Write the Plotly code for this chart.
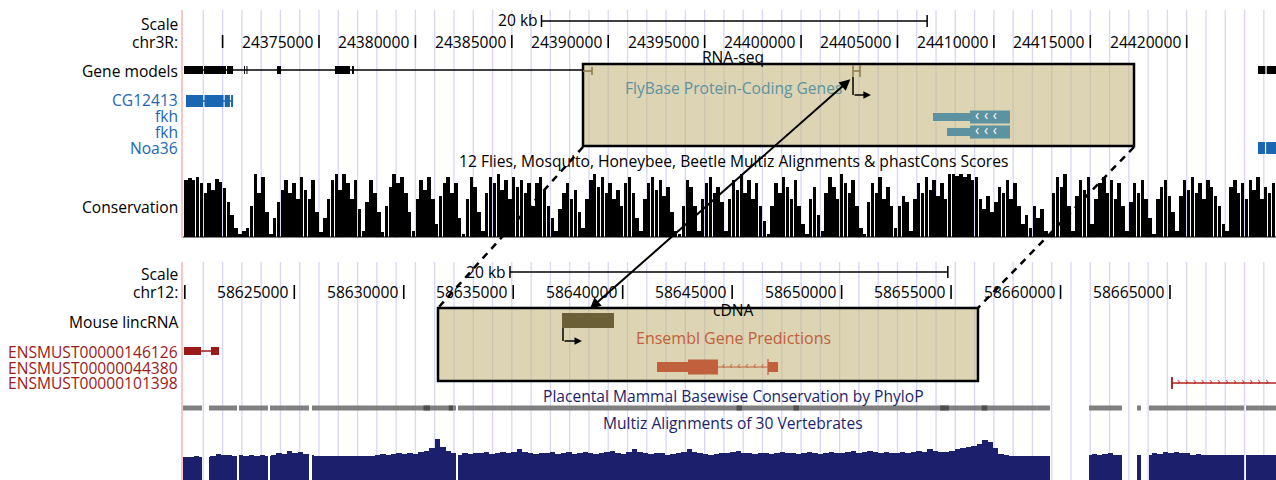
import numpy as np
import plotly.graph_objects as go

# ======================= DATA =======================
# visible windows (genomic coordinates)
top_view = [24367947, 24424632]          # chr3R
bot_view = [58619916, 58669842]          # chr12

top_tick_pos = [24370000, 24375000, 24380000, 24385000, 24390000, 24395000,
                24400000, 24405000, 24410000, 24415000, 24420000]
top_tick_labels = ["", "24375000", "24380000", "24385000", "24390000", "24395000",
                   "24400000", "24405000", "24410000", "24415000", "24420000"]
bot_tick_pos = [58620000, 58625000, 58630000, 58635000, 58640000,
                58645000, 58650000, 58655000, 58660000, 58665000]
bot_tick_labels = ["", "58625000", "58630000", "58635000", "58640000",
                   "58645000", "58650000", "58655000", "58660000", "58665000"]
top_scalebar = [24386540, 24406540]
bot_scalebar = [58634852, 58654852]

# chr3R gene models (black)
models_line = [24368000, 24388692]
models_exons = [(24368000, 24368984), (24369036, 24370177), (24370229, 24370540),
                (24371110, 24371160), (24371240, 24371290), (24372822, 24373029),
                (24375830, 24376608), (24376712, 24376816)]
models_right_exons = [(24423699, 24424080), (24424150, 24424632)]
# FlyBase (blue)
cg12413_line = [24368100, 24370540]
cg12413_exons = [(24368100, 24368984), (24369060, 24370050), (24370110, 24370380),
                 (24370440, 24370540)]
noa36_exons = [(24423699, 24424060), (24424120, 24424632)]
# fkh transcripts (teal, minus strand)
fkh_utr = [(24406844, 24408763), (24407570, 24408763)]
fkh_cds = [(24408763, 24410837), (24408763, 24410837)]
# RNA-seq (highlighted region)
top_region = [24388692, 24417268]
rnaseq_tail = [24388692, 24389159]
rnaseq_exon = [24402695, 24403058]
rnaseq_tss = [24402695, 24403620]

# chr12
bot_region = [58631564, 58656229]
cdna_block = [58637228, 58639603]
cdna_tss = [58637273, 58638140]
ens_utr = [58641567, 58642983]
ens_cds = [58642983, 58644354]
ens_intron = [58644354, 58646638]
ens_end = [58646638, 58647097]
ensmust146126_exons = [(58619962, 58620738), (58621195, 58621560)]
ensmust101398_start = 58665090

# top conservation (phastCons, 200 bp bins from 24368000)
cons_start, cons_bin = 24368000, 200
cons_vals = [
    0.90, 0.93, 0.90, 0.95, 0.85, 0.70, 0.85, 0.75, 0.92, 0.88,
    0.78, 0.55, 0.35, 0.15, 0.05, 0.10, 0.15, 0.50, 1.00, 0.70,
    0.95, 0.40, 0.05, 0.30, 0.55, 0.75, 0.90, 0.70, 0.85, 0.60,
    0.95, 0.75, 0.60, 0.90, 0.40, 0.08, 0.30, 0.60, 0.90, 1.00,
    0.75, 1.00, 0.85, 0.60, 0.90, 0.45, 0.10, 0.55, 0.90, 0.70,
    0.40, 0.08, 0.50, 0.80, 1.00, 0.85, 0.95, 0.70, 0.40, 0.10,
    0.60, 0.90, 0.75, 0.95, 0.60, 0.20, 0.65, 0.85, 0.95, 0.70,
    0.85, 0.30, 0.05, 0.60, 0.95, 0.80, 0.40, 0.10, 0.70, 0.95,
    0.85, 1.00, 0.75, 0.90, 0.60, 0.95, 0.80, 0.90, 0.70, 0.85,
    0.50, 0.85, 0.95, 0.75, 0.50, 0.30, 0.10, 0.45, 0.70, 0.85,
    0.60, 0.75, 0.40, 0.15, 0.60, 0.90, 1.00, 0.80, 0.95, 0.70,
    0.85, 0.60, 0.75, 0.50, 0.85, 0.95, 0.70, 0.30, 0.10, 0.60,
    0.85, 0.95, 0.75, 0.90, 0.65, 0.80, 0.40, 0.10, 0.05, 0.50,
    0.90, 0.80, 0.50, 0.10, 0.60, 0.85, 0.95, 0.70, 0.80, 0.55,
    0.10, 0.60, 0.90, 0.75, 1.00, 0.70, 0.90, 0.60, 0.85, 0.50,
    0.25, 0.05, 0.50, 0.85, 0.70, 0.95, 0.80, 0.60, 0.90, 0.50,
    0.20, 0.05, 0.60, 0.80, 0.35, 0.10, 0.70, 0.95, 0.80, 0.60,
    1.00, 0.85, 0.70, 0.90, 0.50, 0.15, 0.05, 0.55, 0.85, 0.70,
    0.95, 0.60, 0.80, 0.50, 0.15, 0.50, 0.65, 0.55, 0.10, 0.60,
    0.85, 0.70, 0.95, 0.75, 0.90, 0.65, 0.85, 0.60, 1.00, 1.00,
    0.97, 1.00, 0.95, 1.00, 0.90, 0.95, 0.60, 0.45, 0.65, 0.40,
    0.55, 0.80, 0.70, 0.90, 0.60, 0.85, 0.50, 0.20, 0.35, 0.15,
    0.50, 0.30, 0.45, 0.10, 0.05, 0.70, 0.95, 0.80, 1.00, 0.50,
    0.10, 0.65, 0.90, 0.75, 0.95, 0.20, 0.60, 0.85, 0.95, 0.70,
    0.90, 0.60, 0.85, 0.50, 0.10, 0.55, 0.85, 0.70, 0.90, 0.60,
    0.30, 0.05, 0.60, 0.80, 0.90, 0.65, 0.40, 0.10, 0.65, 0.90,
    0.75, 0.95, 0.70, 0.85, 0.60, 0.90, 0.80, 0.65, 0.50, 0.20,
    0.10, 0.80, 0.90, 0.70, 0.85, 0.60, 0.90, 0.75, 0.95, 0.60,
    0.80, 0.70, 0.85,
]

# bottom conservation (Multiz 30 vertebrates, 250 bp bins from 58619916)
multiz_start, multiz_bin = 58619916, 250
multiz_vals = [
    0.57, 0.57, 0.58, 0.57, 0.57, 0.59, 0.62, 0.60, 0.60, 0.59,
    0.60, 0.58, 0.60, 0.59, 0.61, 0.58, 0.60, 0.63, 0.62, 0.68,
    0.64, 0.66, 0.62, 0.60, 0.59, 0.58, 0.58, 0.58, 0.58, 0.58,
    0.58, 0.58, 0.58, 0.58, 0.59, 0.60, 0.62, 0.61, 0.62, 0.63,
    0.62, 0.64, 0.62, 0.65, 0.67, 0.72, 0.88, 0.75, 0.68, 0.64,
    0.60, 0.63, 0.62, 0.64, 0.63, 0.65, 0.62, 0.64, 0.66, 0.63,
    0.65, 0.70, 0.66, 0.64, 0.62, 0.64, 0.63, 0.65, 0.62, 0.64,
    0.66, 0.62, 0.64, 0.65, 0.63, 0.62, 0.64, 0.66, 0.68, 0.64,
    0.62, 0.65, 0.70, 0.66, 0.63, 0.62, 0.64, 0.63, 0.61, 0.62,
    0.64, 0.66, 0.70, 0.66, 0.64, 0.62, 0.61, 0.62, 0.64, 0.63,
    0.66, 0.68, 0.64, 0.63, 0.62, 0.64, 0.63, 0.62, 0.64, 0.66,
    0.64, 0.63, 0.62, 0.64, 0.66, 0.63, 0.62, 0.64, 0.66, 0.64,
    0.63, 0.65, 0.67, 0.64, 0.65, 0.68, 0.66, 0.64, 0.65, 0.63,
    0.64, 0.66, 0.64, 0.66, 0.68, 0.65, 0.70, 0.67, 0.65, 0.66,
    0.68, 0.70, 0.72, 0.74, 0.76, 0.80, 0.86, 0.82, 0.72, 0.62,
    0.60, 0.58, 0.58, 0.58, 0.58, 0.58, 0.58, 0.58, 0.58, 0.58,
    0.58, 0.58, 0.58, 0.58, 0.58, 0.60, 0.62, 0.60, 0.62, 0.63,
    0.60, 0.60, 0.60, 0.60, 0.60, 0.60, 0.60, 0.64, 0.62, 0.65,
    0.63, 0.66, 0.64, 0.63, 0.60, 0.62, 0.60, 0.60, 0.60, 0.60,
    0.60, 0.60, 0.60, 0.60, 0.60, 0.60, 0.60, 0.60, 0.60, 0.60,
]
aligned_segments = [(58619916, 58620784), (58621104, 58622383), (58622474, 58623799),
                    (58623890, 58625671), (58625808, 58632386), (58632477, 58659518),
                    (58661300, 58662807), (58663492, 58663675), (58664040, 58668379),
                    (58668471, 58669842)]
phylop_dark = [(58630900, 58631200), (58632050, 58632250), (58645200, 58645450),
               (58647800, 58648050), (58654500, 58654900), (58656400, 58656650)]

# ======================= STYLE / LAYOUT =======================
W, H = 1276, 480
LEFT = 183
DOM = [LEFT / W, 1.0]
FONT = "Open Sans, Lato, DejaVu Sans, sans-serif"
FS = 15.6
BLUE = "#1b66b3"
TEAL = "#5d92a1"
OLIVE = "#8c7843"
DOLIVE = "#6a5f37"
RUST = "#c0603c"
DRED = "#9b1a1a"
NAVY = "#1c1f6b"
GRID = "#d6d6fa"
TAN = "rgba(196,184,128,0.6)"
CX = 733 / W  # centre of the image area for track titles

shapes, annots, traces = [], [], []


def line(xref, x0, x1, y0, y1, color, width=1.5, layer="above", dash=None):
    d = dict(type="line", xref=xref, yref="y", x0=x0, x1=x1, y0=y0, y1=y1,
             line=dict(color=color, width=width), layer=layer)
    if dash:
        d["line"]["dash"] = dash
    shapes.append(d)


def rect(xref, x0, x1, yc, h, color, layer="below"):
    shapes.append(dict(type="rect", xref=xref, yref="y", x0=x0, x1=x1,
                       y0=yc - h / 2, y1=yc + h / 2, fillcolor=color,
                       line=dict(width=0), layer=layer))


def text(s, x, y, xref="paper", xanchor="right", color="black", size=FS, xshift=0):
    annots.append(dict(text=s, x=x, y=y, xref=xref, yref="y", xanchor=xanchor,
                       yanchor="middle", showarrow=False, xshift=xshift,
                       font=dict(family=FONT, size=size, color=color)))


def to_paper(bp, view):
    return DOM[0] + (bp - view[0]) / (view[1] - view[0]) * (DOM[1] - DOM[0])


# guidelines (pixel based in the browser image -> every kb in the top window)
for g in range(24369000, 24425000, 1000):
    for (ya, yb) in [(10, 238), (262, 480)]:
        line("x", g, g, ya, yb, GRID, width=1.3, layer="below")
# highlight boxes
shapes.append(dict(type="rect", xref="x", yref="y", x0=top_region[0], x1=top_region[1],
                   y0=64, y1=146, fillcolor=TAN, line=dict(color="black", width=2.5),
                   layer="below"))
shapes.append(dict(type="rect", xref="x2", yref="y", x0=bot_region[0], x1=bot_region[1],
                   y0=308, y1=381, fillcolor=TAN, line=dict(color="black", width=2.5),
                   layer="below"))
# left red border
for (ya, yb) in [(10, 238), (262, 480)]:
    shapes.append(dict(type="line", xref="paper", yref="y", x0=182 / W, x1=182 / W,
                       y0=ya, y1=yb, line=dict(color="#f4a0a0", width=1.2), layer="above"))

# ---------------- top panel ----------------
text("Scale", 180 / W, 24)
text("chr3R:", 180 / W, 42)
text("20 kb", top_scalebar[0], 20, xref="x", xshift=-2)
line("x", top_scalebar[0], top_scalebar[1], 21, 21, "black", 1.5)
line("x", top_scalebar[0], top_scalebar[0], 15, 27, "black", 1.5)
line("x", top_scalebar[1], top_scalebar[1], 15, 27, "black", 1.5)
for p, lab in zip(top_tick_pos, top_tick_labels):
    line("x", p, p, 35, 48, "black", 1.6)
    if lab:
        text(lab, p, 42, xref="x", xshift=-4)

text("Gene models", 180 / W, 71)
line("x", models_line[0], models_line[1], 70, 70, "black", 1.5)
for a, b in models_exons:
    rect("x", a, b, 70, 8, "black")
for a, b in models_right_exons:
    rect("x", a, b, 70, 8, "black")

text("RNA-seq", CX, 57, xanchor="center")
line("x", rnaseq_tail[0], rnaseq_tail[1], 71, 71, OLIVE, 1.5)
line("x", rnaseq_tail[1], rnaseq_tail[1], 67, 75, OLIVE, 1.5)
line("x", rnaseq_exon[0], rnaseq_exon[0], 65, 77, OLIVE, 1.5)
line("x", rnaseq_exon[1], rnaseq_exon[1], 65, 77, OLIVE, 1.5)
line("x", rnaseq_exon[0], rnaseq_exon[1], 71, 71, OLIVE, 1.5)
line("x", rnaseq_tss[0], rnaseq_tss[0], 77, 95, "black", 1.5)
annots.append(dict(x=rnaseq_tss[1], y=95, xref="x", yref="y", ax=rnaseq_tss[0], ay=95,
                   axref="x", ayref="y", showarrow=True, arrowhead=2, arrowsize=1,
                   arrowwidth=1.5, arrowcolor="black", text="", standoff=0))

text("FlyBase Protein-Coding Genes", CX, 88, xanchor="center", color=TEAL)
text("CG12413", 180 / W, 100, color=BLUE)
text("fkh", 180 / W, 116, color=BLUE)
text("fkh", 180 / W, 132, color=BLUE)
text("Noa36", 180 / W, 148, color=BLUE)
line("x", cg12413_line[0], cg12413_line[1], 101, 101, BLUE, 1.5, layer="below")
for a, b in cg12413_exons:
    rect("x", a, b, 101, 12, BLUE)
for a, b in noa36_exons:
    rect("x", a, b, 148, 12, BLUE)
for (u, c, yc) in zip(fkh_utr, fkh_cds, [117, 132]):
    rect("x", u[0], u[1], yc, 8, TEAL)
    rect("x", c[0], c[1], yc, 13, TEAL)
    chev = np.linspace(c[0] + 0.18 * (c[1] - c[0]), c[0] + 0.62 * (c[1] - c[0]), 3)
    traces.append(go.Scatter(x=chev, y=[yc - 1] * 3, mode="text", text=["‹"] * 3,
                             textfont=dict(family=FONT, size=14, color="white"),
                             xaxis="x", yaxis="y", hoverinfo="skip", showlegend=False))

text("12 Flies, Mosquito, Honeybee, Beetle Multiz Alignments &amp; phastCons Scores",
     CX, 161, xanchor="center")
text("Conservation", 180 / W, 207)
cons_x = [cons_start + cons_bin * (i + 0.5) for i in range(len(cons_vals))]
traces.append(go.Bar(x=cons_x, y=cons_vals, width=[cons_bin * 0.9] * len(cons_vals),
                     marker=dict(color="black", line=dict(width=0)),
                     xaxis="x", yaxis="y2", hoverinfo="skip", showlegend=False))
line("x", top_view[0], top_view[1], 237, 237, "black", 1.2)

# ---------------- bottom panel ----------------
text("Scale", 180 / W, 274)
text("chr12:", 180 / W, 292)
text("20 kb", bot_scalebar[0], 272, xref="x2", xshift=-2)
line("x2", bot_scalebar[0], bot_scalebar[1], 272, 272, "black", 1.5)
line("x2", bot_scalebar[0], bot_scalebar[0], 266, 278, "black", 1.5)
line("x2", bot_scalebar[1], bot_scalebar[1], 266, 278, "black", 1.5)
for p, lab in zip(bot_tick_pos, bot_tick_labels):
    line("x2", p, p, 285, 299, "black", 1.6)
    if lab:
        text(lab, p, 292, xref="x2", xshift=-4)

text("cDNA", CX, 310, xanchor="center")
text("Mouse lincRNA", 180 / W, 322)
rect("x2", cdna_block[0], cdna_block[1], 320.5, 15, DOLIVE)
line("x2", cdna_tss[0], cdna_tss[0], 328, 341, "black", 1.5)
annots.append(dict(x=cdna_tss[1], y=341, xref="x2", yref="y", ax=cdna_tss[0], ay=341,
                   axref="x2", ayref="y", showarrow=True, arrowhead=2, arrowsize=1,
                   arrowwidth=1.5, arrowcolor="black", text="", standoff=0))

text("Ensembl Gene Predictions", CX, 338, xanchor="center", color=RUST, size=16)
rect("x2", ens_utr[0], ens_utr[1], 367, 10, RUST)
rect("x2", ens_cds[0], ens_cds[1], 367, 15, RUST)
line("x2", ens_intron[0], ens_intron[1], 367, 367, RUST, 1.2)
line("x2", ens_end[0], ens_end[0], 359, 375, RUST, 1.2)
rect("x2", ens_end[0], ens_end[1], 367, 10, RUST)
chev = np.linspace(ens_intron[0] + 250, ens_intron[1] - 250, 6)
traces.append(go.Scatter(x=chev, y=[366.5] * 6, mode="text", text=["‹"] * 6,
                         textfont=dict(family=FONT, size=10, color=RUST),
                         xaxis="x2", yaxis="y", hoverinfo="skip", showlegend=False))

text("ENSMUST00000146126", 180 / W, 352, color=DRED)
text("ENSMUST00000044380", 180 / W, 368, color=DRED)
text("ENSMUST00000101398", 180 / W, 383, color=DRED)
line("x2", ensmust146126_exons[0][1], ensmust146126_exons[1][0], 351, 351, DRED, 1.5)
for a, b in ensmust146126_exons:
    rect("x2", a, b, 351, 8, DRED)
line("x2", ensmust101398_start, bot_view[1], 383, 383, "#b32222", 1.3)
line("x2", ensmust101398_start, ensmust101398_start, 377, 389, DRED, 1.8)
chev = np.linspace(ensmust101398_start + 300, bot_view[1] - 400, 12)
traces.append(go.Scatter(x=chev, y=[382.5] * 12, mode="text", text=["›"] * 12,
                         textfont=dict(family=FONT, size=11, color="#b32222"),
                         xaxis="x2", yaxis="y", hoverinfo="skip", showlegend=False))

text("Placental Mammal Basewise Conservation by PhyloP", CX, 396, xanchor="center",
     color=NAVY)
for a, b in aligned_segments:
    rect("x2", a, b, 408, 5, "#808080", layer="above")
for a, b in phylop_dark:
    rect("x2", a, b, 408, 5, "#4e4e4e", layer="above")
text("Multiz Alignments of 30 Vertebrates", CX, 423, xanchor="center", color=NAVY)

mx, mw, my = [], [], []
for i, v in enumerate(multiz_vals):
    b0, b1 = multiz_start + multiz_bin * i, multiz_start + multiz_bin * (i + 1)
    for a, b in aligned_segments:
        lo, hi = max(a, b0), min(b, b1)
        if hi > lo:
            mx.append((lo + hi) / 2)
            mw.append(hi - lo)
            my.append(v)
traces.append(go.Bar(x=mx, y=my, width=mw, marker=dict(color=NAVY, line=dict(width=0)),
                     xaxis="x2", yaxis="y3", hoverinfo="skip", showlegend=False))

# ---------------- connectors ----------------
for tb, bb in [(top_region[0], bot_region[0]), (top_region[1], bot_region[1])]:
    shapes.append(dict(type="line", xref="paper", yref="paper",
                       x0=to_paper(tb, top_view), y0=1 - 147 / H,
                       x1=to_paper(bb, bot_view), y1=1 - 308 / H,
                       line=dict(color="black", width=2.5, dash="7px,6px"), layer="above"))
# double-headed arrow: RNA-seq TSS <-> cDNA
annots.append(dict(x=58638500, y=309, xref="x2", yref="y", ax=262, ay=-231,
                   axref="pixel", ayref="pixel", showarrow=True, arrowhead=2,
                   startarrowhead=2, arrowside="end+start", arrowsize=1.1,
                   startarrowsize=1.1, arrowwidth=2, arrowcolor="black", text="",
                   standoff=0, startstandoff=0))

fig = go.Figure(traces)
ax_common = dict(visible=False, showgrid=False, zeroline=False, fixedrange=True)
fig.update_layout(
    width=W, height=H, margin=dict(l=0, r=0, t=0, b=0),
    paper_bgcolor="white", plot_bgcolor="rgba(0,0,0,0)",
    showlegend=False, bargap=0, barmode="overlay",
    xaxis=dict(domain=DOM, range=top_view, anchor="y", **ax_common),
    xaxis2=dict(domain=DOM, range=bot_view, anchor="y", **ax_common),
    yaxis=dict(domain=[0, 1], range=[H, 0], anchor="x", **ax_common),
    yaxis2=dict(domain=[(H - 237) / H, (H - 174) / H], range=[0, 1], anchor="x",
                **ax_common),
    yaxis3=dict(domain=[0, 48 / H], range=[1 - 48 / 58, 1], anchor="x2", **ax_common),
    shapes=shapes, annotations=annots,
    font=dict(family=FONT),
)
fig.write_html("out.html", config={"displayModeBar": False},
               post_script="document.body.style.margin='0px';document.body.style.overflow='hidden';")
